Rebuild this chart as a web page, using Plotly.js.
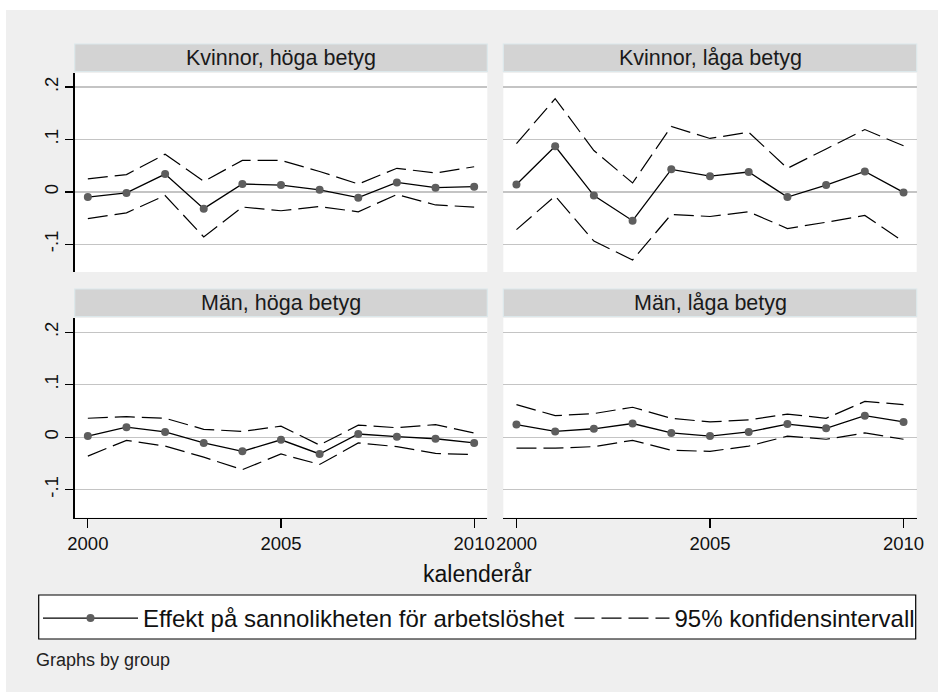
<!DOCTYPE html>
<html>
<head>
<meta charset="utf-8">
<script src="https://cdn.plot.ly/plotly-3.0.1.min.js"></script>
<style>html,body{margin:0;padding:0;background:#fff;}#chart{width:938px;height:692px;}</style>
</head>
<body>
<div id="chart"></div>
<script>
// ---- data ----
var years = [2000, 2001, 2002, 2003, 2004, 2005, 2006, 2007, 2008, 2009, 2010];

var panelTitles = ["Kvinnor, höga betyg", "Kvinnor, låga betyg", "Män, höga betyg", "Män, låga betyg"];

// Kvinnor, höga betyg
var khEst = [-0.010, -0.002, 0.034, -0.032, 0.015, 0.013, 0.004, -0.011, 0.018, 0.008, 0.010];
var khHi  = [0.025, 0.033, 0.072, 0.020, 0.060, 0.060, 0.039, 0.015, 0.045, 0.036, 0.048];
var khLo  = [-0.051, -0.040, -0.007, -0.086, -0.029, -0.036, -0.028, -0.038, -0.005, -0.025, -0.029];

// Kvinnor, låga betyg
var klEst = [0.014, 0.087, -0.007, -0.055, 0.043, 0.030, 0.038, -0.010, 0.013, 0.039, -0.001];
var klHi  = [0.092, 0.178, 0.079, 0.017, 0.125, 0.102, 0.114, 0.045, 0.082, 0.119, 0.088];
var klLo  = [-0.072, -0.008, -0.094, -0.130, -0.043, -0.047, -0.038, -0.070, -0.058, -0.045, -0.095];

// Män, höga betyg
var mhEst = [0.002, 0.019, 0.010, -0.011, -0.027, -0.005, -0.032, 0.006, 0.001, -0.003, -0.011];
var mhHi  = [0.036, 0.039, 0.036, 0.015, 0.011, 0.021, -0.015, 0.023, 0.018, 0.024, 0.008];
var mhLo  = [-0.036, -0.006, -0.017, -0.038, -0.062, -0.032, -0.052, -0.011, -0.018, -0.031, -0.033];

// Män, låga betyg
var mlEst = [0.024, 0.011, 0.016, 0.026, 0.008, 0.002, 0.010, 0.025, 0.017, 0.041, 0.029];
var mlHi  = [0.062, 0.041, 0.045, 0.057, 0.036, 0.029, 0.033, 0.044, 0.036, 0.068, 0.062];
var mlLo  = [-0.021, -0.021, -0.018, -0.006, -0.025, -0.027, -0.017, 0.002, -0.004, 0.008, -0.004];

var yTickVals = [-0.1, 0, 0.1, 0.2];
var yTickText = ["-.1", "0", ".1", ".2"];
var xTickVals = [2000, 2005, 2010];
var xTickText = ["2000", "2005", "2010"];

var estName = "Effekt på sannolikheten för arbetslöshet";
var ciName = "95% konfidensintervall";
var xTitle = "kalenderår";
var note = "Graphs by group";

// ---- layout helpers ----
var W = 938, H = 692;
function px(x) { return x / W; }
function py(y) { return 1 - y / H; }

var FONT = "Liberation Sans, Arial, sans-serif";
var dashPat = "20px,7px";

var panels = [
  {est: khEst, hi: khHi, lo: khLo, xa: "x",  ya: "y"},
  {est: klEst, hi: klHi, lo: klLo, xa: "x2", ya: "y2"},
  {est: mhEst, hi: mhHi, lo: mhLo, xa: "x3", ya: "y3"},
  {est: mlEst, hi: mlHi, lo: mlLo, xa: "x4", ya: "y4"}
];

var data = [];
panels.forEach(function (p, i) {
  data.push({
    x: years, y: p.est, xaxis: p.xa, yaxis: p.ya, type: "scatter", mode: "lines+markers",
    name: estName, legendgroup: "est", showlegend: i === 0, legendrank: 1,
    line: {color: "#000000", width: 1.3},
    marker: {color: "#5e5e5e", size: 8, symbol: "circle"}
  });
  data.push({
    x: years, y: p.hi, xaxis: p.xa, yaxis: p.ya, type: "scatter", mode: "lines",
    name: ciName, legendgroup: "ci", showlegend: i === 0, legendrank: 2,
    line: {color: "#000000", width: 1.2, dash: dashPat}
  });
  data.push({
    x: years, y: p.lo, xaxis: p.xa, yaxis: p.ya, type: "scatter", mode: "lines",
    name: ciName, legendgroup: "ci", showlegend: false,
    line: {color: "#000000", width: 1.2, dash: dashPat}
  });
});

// plot area geometry (pixels)
var colX = [[74.7, 487.3], [503.3, 916.7]];
var rowY = [[73, 272], [318, 517.5]];
var stripH = 27.5, stripGap = 1.5;

var xRange = [1999.66, 2010.34];
var yRange = [-0.153, 0.227];

function xaxisDef(col, row) {
  var bottom = row === 1;
  return {
    domain: [px(colX[col][0]), px(colX[col][1])],
    anchor: ["y", "y2", "y3", "y4"][row * 2 + col],
    range: xRange, fixedrange: true,
    showgrid: false, zeroline: false,
    showline: bottom, linecolor: "#000000", linewidth: 1.3,
    ticks: bottom ? "outside" : "", ticklen: 9, tickwidth: 1.3, tickcolor: "#000000",
    tickmode: "array", tickvals: xTickVals, ticktext: xTickText,
    showticklabels: bottom,
    tickfont: {family: FONT, size: 18.5, color: "#111111"}
  };
}
function yaxisDef(col, row) {
  var left = col === 0;
  return {
    domain: [py(rowY[row][1]), py(rowY[row][0])],
    anchor: ["x", "x2", "x3", "x4"][row * 2 + col],
    range: yRange, fixedrange: true,
    showgrid: true, gridcolor: "#c4c4c4", gridwidth: 1.3,
    zeroline: false,
    showline: left, linecolor: "#000000", linewidth: 1.3,
    ticks: left ? "outside" : "", ticklen: 8, tickwidth: 1.3, tickcolor: "#000000",
    tickmode: "array", tickvals: yTickVals, ticktext: yTickText,
    showticklabels: left, tickangle: -90,
    tickfont: {family: FONT, size: 18.5, color: "#111111"}
  };
}

var shapes = [
  // white frame at top and left of the gray graph region
  {type: "rect", xref: "paper", yref: "paper", x0: 0, x1: 1, y0: py(10), y1: 1, fillcolor: "#ffffff", line: {width: 0}, layer: "below"},
  {type: "rect", xref: "paper", yref: "paper", x0: 0, x1: px(6), y0: 0, y1: 1, fillcolor: "#ffffff", line: {width: 0}, layer: "below"},
  // legend box
  {type: "rect", xref: "paper", yref: "paper", x0: px(38.7), x1: px(915.7), y0: py(639), y1: py(595), fillcolor: "#ffffff", line: {color: "#000000", width: 1.2}, layer: "below"}
];
var annotations = [];
for (var r = 0; r < 2; r++) {
  for (var c = 0; c < 2; c++) {
    var sTop = rowY[r][0] - stripGap - stripH, sBot = rowY[r][0] - stripGap;
    shapes.push({type: "rect", xref: "paper", yref: "paper",
      x0: px(colX[c][0]), x1: px(colX[c][1]), y0: py(sBot), y1: py(sTop),
      fillcolor: "#d3d3d3", line: {color: "#dce8eb", width: 1.2}, layer: "below"});
    annotations.push({xref: "paper", yref: "paper", x: px((colX[c][0] + colX[c][1]) / 2), y: py((sTop + sBot) / 2),
      xanchor: "center", yanchor: "middle", showarrow: false, text: panelTitles[r * 2 + c],
      font: {family: FONT, size: 21.5, color: "#1a1a1a"}});
  }
}
annotations.push({xref: "paper", yref: "paper", x: px(478), y: py(574), xanchor: "center", yanchor: "middle",
  showarrow: false, text: xTitle, font: {family: FONT, size: 23, color: "#111111"}});
annotations.push({xref: "paper", yref: "paper", x: px(34), y: py(660), xanchor: "left", yanchor: "middle",
  showarrow: false, text: note, font: {family: FONT, size: 18, color: "#222222"}});

var layout = {
  width: W, height: H,
  margin: {l: 0, r: 0, t: 0, b: 0, pad: 0},
  paper_bgcolor: "#efefef", plot_bgcolor: "#ffffff",
  font: {family: FONT, color: "#111111"},
  showlegend: true,
  legend: {
    orientation: "h", x: px(38), y: py(596), xanchor: "left", yanchor: "top",
    bgcolor: "rgba(0,0,0,0)", borderwidth: 0, itemwidth: 95, traceorder: "normal",
    font: {family: FONT, size: 24, color: "#111111"}, itemclick: false, itemdoubleclick: false
  },
  xaxis: xaxisDef(0, 0), yaxis: yaxisDef(0, 0),
  xaxis2: xaxisDef(1, 0), yaxis2: yaxisDef(1, 0),
  xaxis3: xaxisDef(0, 1), yaxis3: yaxisDef(0, 1),
  xaxis4: xaxisDef(1, 1), yaxis4: yaxisDef(1, 1),
  shapes: shapes, annotations: annotations,
  hovermode: false
};

Plotly.newPlot("chart", data, layout, {displayModeBar: false, staticPlot: true});
</script>
</body>
</html>
